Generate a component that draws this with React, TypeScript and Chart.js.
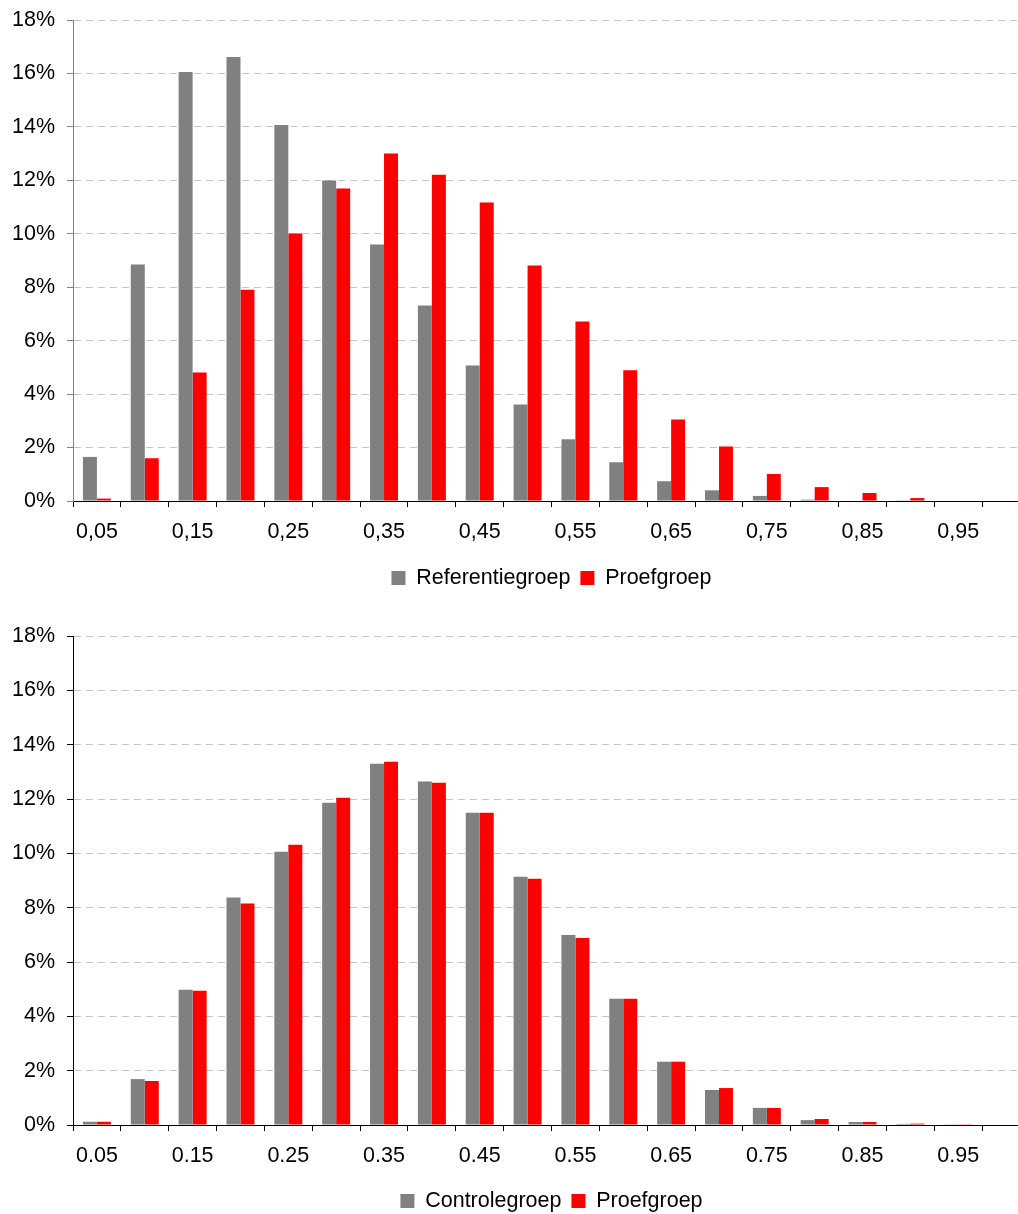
import React, { useEffect, useRef } from 'react';
import { Chart, registerables } from 'chart.js';

Chart.register(...registerables);

// ---- data ----
const categoriesTop = ['0,05', '0,10', '0,15', '0,20', '0,25', '0,30', '0,35', '0,40', '0,45', '0,50', '0,55', '0,60', '0,65', '0,70', '0,75', '0,80', '0,85', '0,90', '0,95', '1,00'];
const categoriesBottom = ['0.05', '0.10', '0.15', '0.20', '0.25', '0.30', '0.35', '0.40', '0.45', '0.50', '0.55', '0.60', '0.65', '0.70', '0.75', '0.80', '0.85', '0.90', '0.95', '1.00'];

const referentiegroep = [1.65, 8.85, 16.05, 16.62, 14.07, 11.99, 9.60, 7.32, 5.07, 3.61, 2.31, 1.45, 0.74, 0.40, 0.19, 0.05, 0.02, 0.01, 0, 0];
const proefgroepTop = [0.09, 1.60, 4.81, 7.91, 10.01, 11.69, 13.0, 12.21, 11.17, 8.81, 6.72, 4.89, 3.05, 2.04, 1.01, 0.52, 0.30, 0.11, 0.02, 0.02];

const controlegroep = [0.12, 1.69, 4.98, 8.37, 10.06, 11.86, 13.30, 12.64, 11.49, 9.14, 6.99, 4.65, 2.33, 1.29, 0.63, 0.18, 0.11, 0.04, 0.01, 0];
const proefgroepBottom = [0.12, 1.62, 4.94, 8.15, 10.32, 12.05, 13.37, 12.60, 11.49, 9.06, 6.88, 4.65, 2.33, 1.36, 0.63, 0.22, 0.11, 0.05, 0.01, 0];

const yMin = 0;
const yMax = 18;
const yStep = 2;

const seriesNamesTop = ['Referentiegroep', 'Proefgroep'];
const seriesNamesBottom = ['Controlegroep', 'Proefgroep'];

const GRAY = '#808080';
const RED = '#FF0000';
const FONT = 'Liberation Sans, Arial, sans-serif';
const FS = 21.5;

type Cfg = {
  labels: string[];
  a: number[];
  b: number[];
  names: string[];
  width: number;
  height: number;
  xHeight: number;
  padBottom: number;
  yAxisColor: string;
};

function BarChart(props: Cfg) {
  const ref = useRef<HTMLCanvasElement | null>(null);
  useEffect(() => {
    if (!ref.current) return;
    const chart = new Chart(ref.current, {
      type: 'bar',
      data: {
        labels: props.labels,
        datasets: [
          { label: props.names[0], data: props.a, backgroundColor: GRAY, borderWidth: 0 },
          { label: props.names[1], data: props.b, backgroundColor: RED, borderWidth: 0 },
        ],
      },
      options: {
        responsive: false,
        animation: false,
        devicePixelRatio: 1,
        layout: { padding: { top: 12, left: 0, right: 0, bottom: props.padBottom } },
        datasets: { bar: { barPercentage: 1.0, categoryPercentage: 0.585 } },
        plugins: {
          tooltip: { enabled: false },
          legend: {
            position: 'bottom',
            fullSize: false,
            labels: {
              boxWidth: 14,
              boxHeight: 14,
              padding: 10,
              color: '#000',
              font: { family: FONT, size: FS },
            },
          },
        },
        scales: {
          x: {
            offset: true,
            grid: {
              offset: true,
              drawOnChartArea: false,
              drawTicks: true,
              tickLength: 6,
              color: '#000',
              tickColor: '#000',
            },
            border: { display: true, color: '#000', width: 1 },
            ticks: {
              autoSkip: false,
              maxRotation: 0,
              minRotation: 0,
              padding: 12,
              color: '#000',
              font: { family: FONT, size: FS },
              callback: (_v: any, i: number) => (i % 2 === 0 ? props.labels[i] : ''),
            },
            afterFit: (s: any) => {
              s.height = props.xHeight;
              s.paddingLeft = 0;
              s.paddingRight = 0;
            },
          },
          y: {
            min: yMin,
            max: yMax,
            grid: {
              drawTicks: true,
              tickLength: 6,
              color: (c: any) => (c.tick && c.tick.value === 0 ? 'rgba(0,0,0,0)' : '#c4c4c4'),
              tickColor: props.yAxisColor,
              lineWidth: 1,
            },
            border: { display: true, color: props.yAxisColor, width: 1, dash: [7, 5] },
            ticks: {
              stepSize: yStep,
              padding: 12,
              color: '#000',
              font: { family: FONT, size: FS },
              callback: (v: any) => `${v}%`,
            },
            afterFit: (s: any) => {
              s.width = 65;
              s.paddingTop = 0;
              s.paddingBottom = 0;
            },
          },
        },
      },
    } as any);
    return () => chart.destroy();
  }, []);
  return (
    <canvas
      ref={ref}
      width={props.width}
      height={props.height}
      style={{ display: 'block', width: props.width, height: props.height }}
    />
  );
}

export default function App() {
  return (
    <div
      style={{
        position: 'fixed',
        left: 0,
        top: 0,
        width: 1018,
        height: 1214,
        overflow: 'hidden',
        background: '#fff',
      }}
    >
      <div style={{ position: 'absolute', left: 8, top: 8 }}>
        <BarChart
          labels={categoriesTop}
          a={referentiegroep}
          b={proefgroepTop}
          names={seriesNamesTop}
          width={1022}
          height={616}
          xHeight={56.25}
          padBottom={25.25}
          yAxisColor={GRAY}
        />
      </div>
      <div style={{ position: 'absolute', left: 8, top: 624 }}>
        <BarChart
          labels={categoriesBottom}
          a={controlegroep}
          b={proefgroepBottom}
          names={seriesNamesBottom}
          width={1022}
          height={610}
          xHeight={55.25}
          padBottom={12.25}
          yAxisColor={'#000'}
        />
      </div>
    </div>
  );
}
